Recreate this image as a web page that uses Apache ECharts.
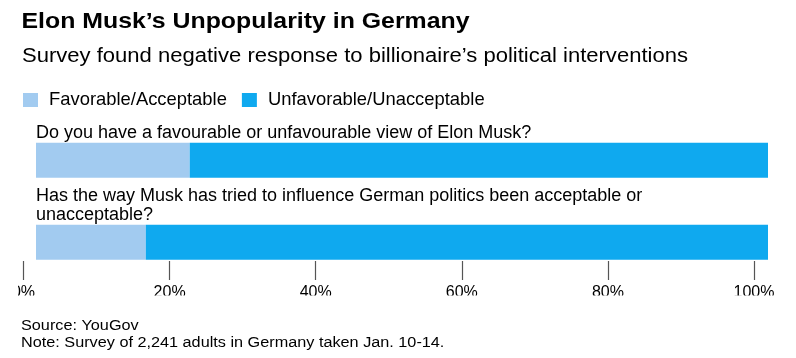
<!DOCTYPE html>
<html><head><meta charset="utf-8">
<script src="https://cdn.jsdelivr.net/npm/echarts@6/dist/echarts.min.js"></script>
<style>html,body{margin:0;padding:0;background:#fff}#c{width:796px;height:358px}</style>
</head><body><div id="c"></div>
<script>
const titleText = "Elon Musk’s Unpopularity in Germany";
const subtitleText = "Survey found negative response to billionaire’s political interventions";
const sourceText = "Source: YouGov";
const noteText = "Note: Survey of 2,241 adults in Germany taken Jan. 10-14.";
const questions = [
  "Do you have a favourable or unfavourable view of Elon Musk?",
  "Has the way Musk has tried to influence German politics been acceptable or unacceptable?"
];
const seriesNames = ["Favorable/Acceptable", "Unfavorable/Unacceptable"];
const favorable = [21, 15];
const unfavorable = [79, 85];
const tickValues = [0, 20, 40, 60, 80, 100];
const colors = ["#A2CBF0", "#0FA9EF"];
const FONT = "'Liberation Sans', Arial, Helvetica, sans-serif";

function txt(text, x, y, size, weight, sx) {
  return {type: 'text', x: x, y: y, scaleX: sx, z: 50,
    style: {text: text, fill: '#000', fontFamily: FONT, fontSize: size, fontWeight: weight,
            align: 'left', verticalAlign: 'middle'}};
}

const chart = echarts.init(document.getElementById('c'), null, {renderer: 'canvas'});
chart.setOption({
  animation: false,
  textStyle: {fontFamily: FONT},
  legend: {
    left: 18, top: 86, itemWidth: 15, itemHeight: 14, itemGap: 15,
    icon: 'rect',
    textStyle: {fontFamily: FONT, fontSize: 18.4, color: '#000', padding: [0, 0, 0, 6]},
    data: seriesNames
  },
  grid: [
    {left: 36, right: 28, top: 119.3, height: 164, containLabel: false},
    {left: 23.5, right: 42, top: 200, bottom: 97, containLabel: false}
  ],
  xAxis: [
    {gridIndex: 0, type: 'value', min: 0, max: 100, show: false},
    {gridIndex: 1, type: 'value', min: 0, max: 100, interval: 20,
     axisLine: {show: false}, splitLine: {show: false},
     axisTick: {show: true, length: 19, lineStyle: {color: '#555', width: 1.2}},
     axisLabel: {margin: 24, fontFamily: FONT, fontSize: 16, color: '#000',
       formatter: v => tickValues.includes(v) ? v + '%' : ''}}
  ],
  yAxis: [
    {gridIndex: 0, type: 'category', data: questions, inverse: true, show: false},
    {gridIndex: 1, type: 'value', show: false}
  ],
  series: [
    {name: seriesNames[0], type: 'bar', stack: 'a', xAxisIndex: 0, yAxisIndex: 0,
     data: favorable, barWidth: 35, itemStyle: {color: colors[0]},
     label: {show: true, position: [0, -1], align: 'left', verticalAlign: 'bottom',
       formatter: p => questions[p.dataIndex], width: 660, overflow: 'break',
       fontFamily: FONT, fontSize: 18, lineHeight: 18.5, color: '#000'}},
    {name: seriesNames[1], type: 'bar', stack: 'a', xAxisIndex: 0, yAxisIndex: 0,
     data: unfavorable, barWidth: 35,
     itemStyle: {color: colors[1]}}
  ],
  graphic: [
    txt(titleText, 21.5, 22, 22, 'bold', 1.13),
    txt(subtitleText, 22, 56.5, 19.5, 'normal', 1.13),
    txt(sourceText, 21, 326.5, 14, 'normal', 1.16),
    txt(noteText, 21, 343.5, 14, 'normal', 1.16),
    {type: 'rect', left: 0, top: 295.5, shape: {width: 796, height: 17}, style: {fill: '#fff'}, z: 40},
    {type: 'rect', left: 0, top: 283, shape: {width: 18, height: 14}, style: {fill: '#fff'}, z: 40}
  ]
});
</script></body></html>
